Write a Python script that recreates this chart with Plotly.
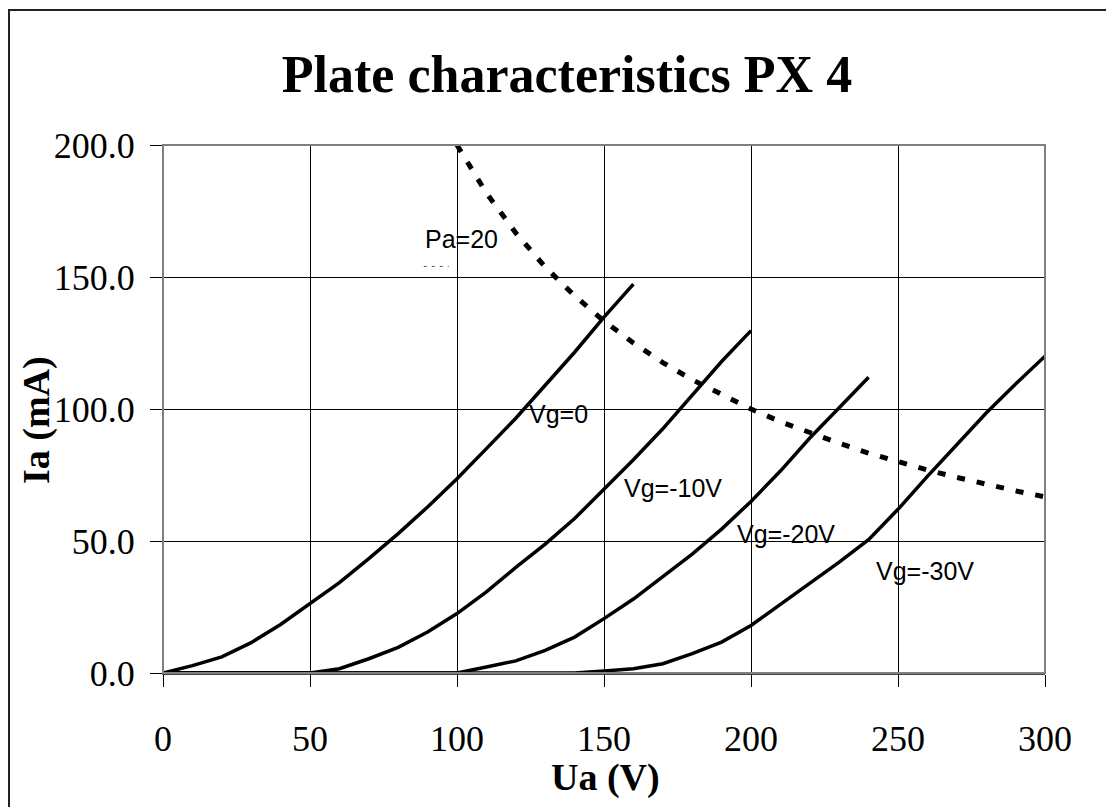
import plotly.graph_objects as go

# ---- data ----
ua_vg0 = [0, 10, 20, 30, 40, 50, 60, 70, 80, 90, 100, 110, 120, 130, 140, 150, 160]
ia_vg0 = [0, 2.8, 6.1, 11.5, 18.4, 26.3, 34.2, 43.3, 52.8, 62.9, 73.6, 85, 96.5, 109, 121.5, 134.8, 147.3]

ua_vg10 = [0, 50, 60, 70, 80, 90, 100, 110, 120, 130, 140, 150, 160, 170, 180, 190, 200]
ia_vg10 = [0, 0, 1.6, 5.4, 9.7, 15.5, 22.5, 30.7, 40, 48.8, 58.5, 69.5, 80.8, 92.5, 105.5, 118, 129.7]

ua_vg20 = [0, 100, 110, 120, 130, 140, 150, 160, 170, 180, 190, 200, 210, 220, 230, 240]
ia_vg20 = [0, 0, 2.3, 4.6, 8.6, 13.6, 20.6, 28, 36.5, 45, 54.5, 65, 76.5, 89, 100.5, 112]

ua_vg30 = [0, 140, 150, 160, 170, 180, 190, 200, 210, 220, 230, 240, 250, 260, 270, 280, 290, 300]
ia_vg30 = [0, 0, 0.8, 1.6, 3.5, 7.3, 11.7, 18, 26, 34, 42, 50.5, 62, 74.5, 86.5, 98.5, 109.5, 120]

ua_pa = [100, 110, 120, 130, 140, 150, 160, 170, 180, 190, 200, 210, 220, 230, 240, 250, 260, 270, 280, 290, 300]
ia_pa = [200, 181.8, 166.7, 153.8, 142.9, 133.3, 125, 117.6, 111.1, 105.3, 100, 95.2, 90.9, 87, 83.3, 80, 76.9, 74.1, 71.4, 69, 66.7]

ua_stub = [88.7, 97.2]
ia_stub = [154, 154]

curve_labels = ["Vg=0", "Vg=-10V", "Vg=-20V", "Vg=-30V", "Pa=20"]
label_ua = [134.6, 173.6, 211.8, 259.3, 101.6]
label_ia = [98, 70, 52.5, 38.5, 164.5]

x_ticks = [0, 50, 100, 150, 200, 250, 300]
y_ticks = [0, 50, 100, 150, 200]

title_text = "Plate characteristics PX 4"
x_title = "Ua (V)"
y_title = "Ia (mA)"

SERIF = "Liberation Serif, Times New Roman, serif"
SANS = "Liberation Sans Narrow, Arial Narrow, Liberation Sans, Arial, sans-serif"

# page body has an 8px offset; layout is expressed in figure coordinates
OFF = 8
W, H = 1114, 807
PL, PR, PT, PB = 163 - OFF, 1045 - OFF, 145 - OFF, 673 - OFF  # plot area in figure px
PW, PH = PR - PL, PB - PT


def px_to_paper(x, y):
    """screen pixel -> paper coords"""
    return (x - OFF - PL) / PW, (PB - (y - OFF)) / PH


fig = go.Figure()
for xs, ys in [(ua_vg0, ia_vg0), (ua_vg10, ia_vg10), (ua_vg20, ia_vg20), (ua_vg30, ia_vg30)]:
    fig.add_trace(go.Scatter(x=xs, y=ys, mode="lines",
                             line=dict(color="black", width=3.5),
                             showlegend=False, hoverinfo="skip", cliponaxis=False))
fig.add_trace(go.Scatter(x=ua_pa, y=ia_pa, mode="lines",
                         line=dict(color="black", width=5, dash="8px,12px"),
                         showlegend=False, hoverinfo="skip"))
fig.add_trace(go.Scatter(x=ua_stub, y=ia_stub, mode="lines",
                         line=dict(color="#555555", width=1, dash="3px,5px"),
                         showlegend=False, hoverinfo="skip"))

for t, xv, yv in zip(curve_labels, label_ua, label_ia):
    fig.add_annotation(x=xv, y=yv, text=t, showarrow=False,
                       font=dict(family=SANS, size=25, color="black"),
                       xanchor="center", yanchor="middle")

# axis titles
xt = px_to_paper(605, 778)
fig.add_annotation(x=xt[0], y=xt[1], xref="paper", yref="paper",
                   text="<b>" + x_title + "</b>", showarrow=False,
                   font=dict(family=SERIF, size=38, color="black"),
                   xanchor="center", yanchor="middle")
yt = px_to_paper(37, 420)
fig.add_annotation(x=yt[0], y=yt[1], xref="paper", yref="paper",
                   text="<b>" + y_title + "</b>", showarrow=False, textangle=-90,
                   font=dict(family=SERIF, size=38, color="black"),
                   xanchor="center", yanchor="middle")

# plot-area border (gray) and outer chart border
fig.add_shape(type="rect", xref="paper", yref="paper", x0=0, y0=0, x1=1, y1=1,
              line=dict(color="#808080", width=2), layer="above")
b0 = px_to_paper(9, 840)
b1 = px_to_paper(1140, 10)
fig.add_shape(type="rect", xref="paper", yref="paper",
              x0=b0[0], y0=b0[1], x1=b1[0], y1=b1[1],
              line=dict(color="#222222", width=2), layer="above")

fig.update_layout(
    width=W, height=H,
    margin=dict(l=PL, r=W - PR, t=PT, b=H - PB),
    paper_bgcolor="white", plot_bgcolor="white",
    title=dict(text="<b>" + title_text + "</b>", x=(567 - OFF) / W, xref="container", xanchor="center",
               y=1 - (74 - OFF) / H, yref="container", yanchor="middle",
               font=dict(family=SERIF, size=52, color="black")),
    showlegend=False,
)
fig.update_xaxes(range=[0, 300], tickvals=x_ticks, ticktext=[str(v) for v in x_ticks],
                 showgrid=True, gridcolor="black", gridwidth=1,
                 ticks="outside", ticklen=12, tickcolor="black", tickwidth=1,
                 ticklabelstandoff=21,
                 showline=True, linecolor="#444444", linewidth=2,
                 zeroline=False,
                 tickfont=dict(family=SERIF, size=36, color="black"))
fig.update_yaxes(range=[0, 200], tickvals=y_ticks, ticktext=["%.1f" % v for v in y_ticks],
                 showgrid=True, gridcolor="black", gridwidth=1,
                 ticks="outside", ticklen=12, tickcolor="black", tickwidth=1,
                 ticklabelstandoff=8,
                 showline=True, linecolor="black", linewidth=1,
                 zeroline=False,
                 tickfont=dict(family=SERIF, size=36, color="black"))

fig.write_html("out.html")
